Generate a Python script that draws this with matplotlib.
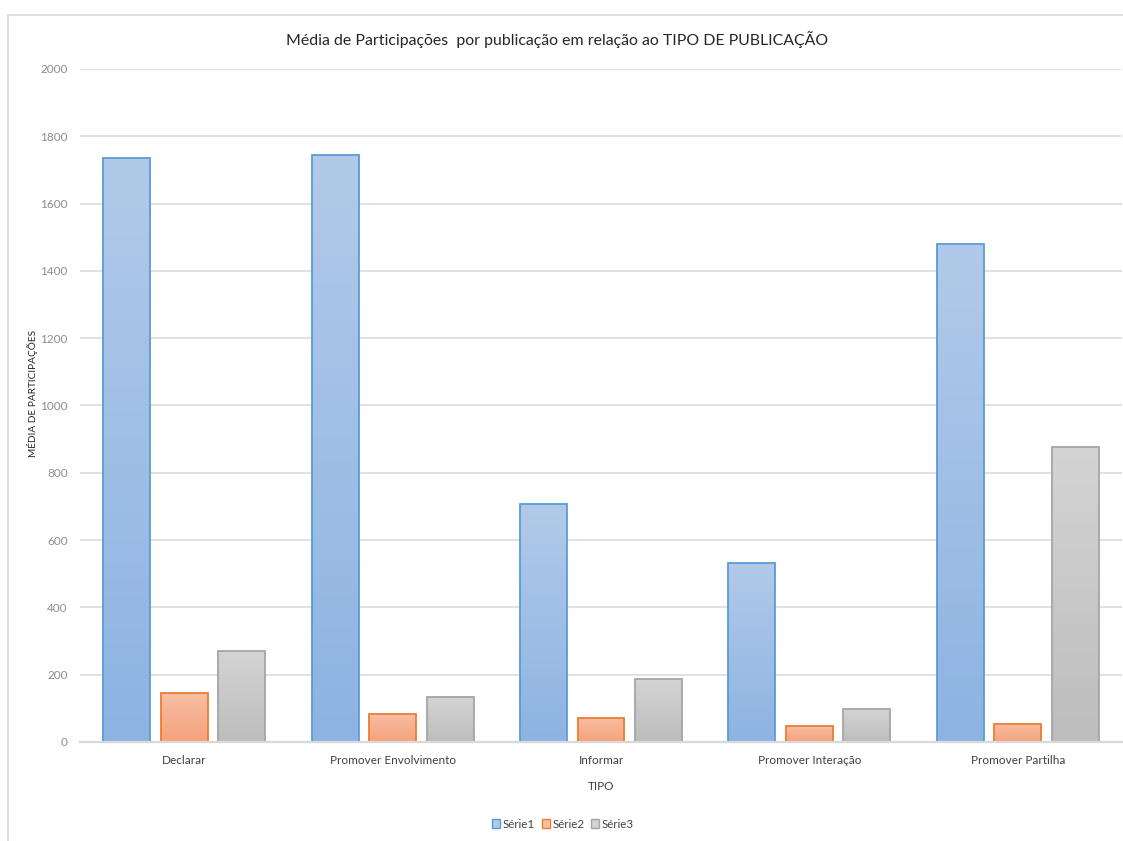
import numpy as np
import matplotlib
matplotlib.use("Agg")
import matplotlib.pyplot as plt
from matplotlib.patches import Patch
from matplotlib.lines import Line2D
from matplotlib.colors import LinearSegmentedColormap

plt.rcParams['font.family'] = ['Lato', 'DejaVu Sans']

categories = ["Declarar", "Promover Envolvimento", "Informar",
              "Promover Interação", "Promover Partilha"]
series_names = ["Série1", "Série2", "Série3"]
serie1 = [1735, 1744, 707, 533, 1480]
serie2 = [145, 84, 72, 48, 54]
serie3 = [271, 133, 188, 97, 877]
yticks = list(range(0, 2001, 200))

# (top colour, bottom colour, edge colour) for each series
styles = [
    ("#B1CAE9", "#8DB3E2", "#5B9BD5"),
    ("#F8BEA3", "#F4A27B", "#ED7D31"),
    ("#D4D4D4", "#BDBDBD", "#A5A5A5"),
]

W, H = 1123, 841
fig = plt.figure(figsize=(W / 100, H / 100), dpi=100)
fig.patch.set_facecolor("white")

# chart frame (left and top edges visible)
fig.add_artist(Line2D([7.5 / W, 7.5 / W], [0, 1 - 15 / H], transform=fig.transFigure,
                      color="#D9D9D9", lw=1.2))
fig.add_artist(Line2D([7.5 / W, 1], [1 - 15 / H, 1 - 15 / H], transform=fig.transFigure,
                      color="#D9D9D9", lw=1.2))

left, right, top, bottom = 80, 1122, 69, 742
ax = fig.add_axes([left / W, 1 - bottom / H, (right - left) / W, (bottom - top) / H])

x = np.arange(len(categories))
bw = 0.2255
off = 0.276
all_series = [serie1, serie2, serie3]

grad = np.linspace(0, 1, 256).reshape(-1, 1)
for i, (vals, (ctop, cbot, cedge)) in enumerate(zip(all_series, styles)):
    cmap = LinearSegmentedColormap.from_list(f"g{i}", [cbot, ctop])
    bars = ax.bar(x + (i - 1) * off, vals, width=bw, facecolor="none",
                  edgecolor=cedge, linewidth=1.3, zorder=3)
    for b in bars:
        x0, y0 = b.get_x(), b.get_y()
        w, h = b.get_width(), b.get_height()
        im = ax.imshow(grad, cmap=cmap, origin="lower", aspect="auto",
                       extent=(x0, x0 + w, y0, y0 + h), zorder=2,
                       interpolation="bilinear")
        im.set_clip_path(b)

ax.set_xlim(-0.5, len(categories) - 0.5)
ax.set_ylim(0, 2000)
ax.set_yticks(yticks)
ax.set_xticks(x)
ax.set_xticklabels(categories, fontsize=8.5, color="#404040")
ax.tick_params(axis="x", length=0, pad=9)
ax.tick_params(axis="y", length=0, pad=9, labelsize=8.5, labelcolor="#8C8C8C")
ax.grid(axis="y", color="#D9D9D9", linewidth=1.1, zorder=0)
ax.set_axisbelow(True)
for s in ["top", "right", "left"]:
    ax.spines[s].set_visible(False)
ax.spines["bottom"].set_color("#D9D9D9")
ax.spines["bottom"].set_linewidth(1.6)
ax.spines["bottom"].set_zorder(4)

ax.set_xlabel("TIPO", fontsize=8.5, color="#404040", labelpad=11)
fig.text(32 / W, 1 - 393 / H, "MÉDIA DE PARTICIPAÇÕES", rotation=90,
         ha="center", va="center", fontsize=7.3, color="#262626")

fig.text(557 / W, 1 - 40 / H,
         "Média de Participações  por publicação em relação ao TIPO DE PUBLICAÇÃO",
         ha="center", va="center", fontsize=11.4, color="#262626")

handles = [Patch(facecolor=ctop, edgecolor=cedge, linewidth=1.0)
           for (ctop, cbot, cedge) in styles]
fig.legend(handles, series_names, loc="center", bbox_to_anchor=(563 / W, 1 - 824 / H),
           ncol=3, frameon=False, fontsize=8.3, handlelength=0.7, handleheight=0.7,
           handletextpad=0.2, columnspacing=0.6, labelcolor="#404040")

fig.savefig("out.png", dpi=100)
